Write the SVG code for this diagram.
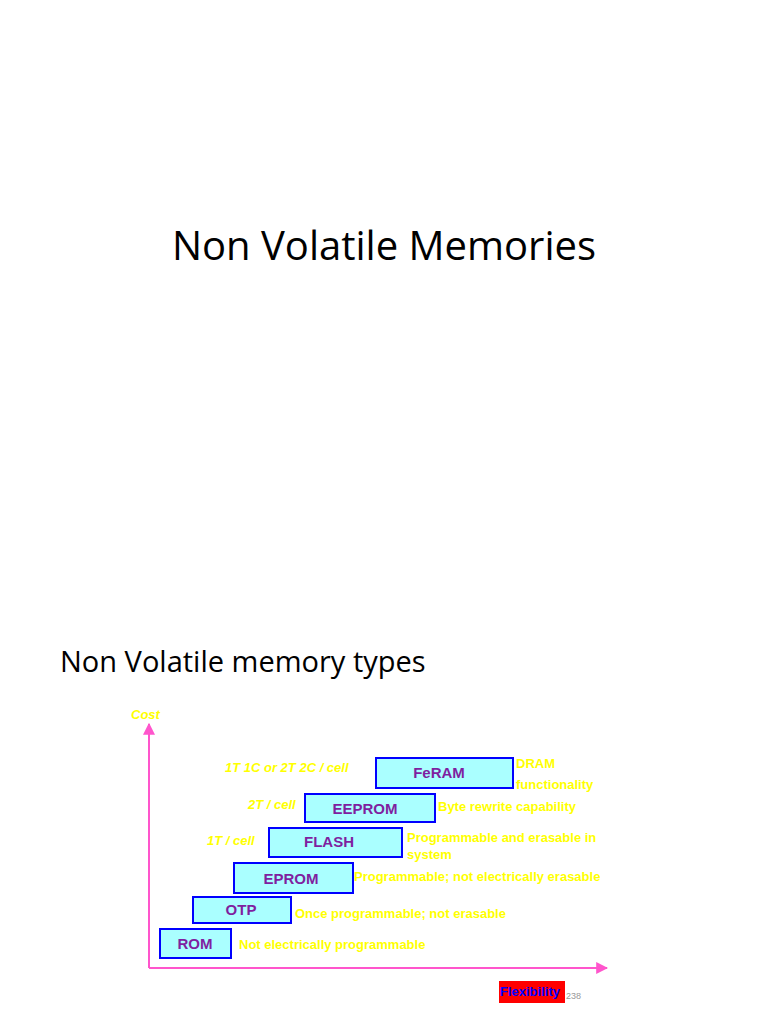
<svg xmlns="http://www.w3.org/2000/svg" width="768" height="1024" viewBox="0 0 768 1024">
<style>
.t{font-family:"Open Sans","Liberation Sans",sans-serif;fill:#000}
.b{fill:#aaffff;stroke:#0000ff;stroke-width:2}
.n{font-family:"Liberation Sans",Arial,sans-serif;font-size:15px;font-weight:bold;fill:#7f1fa0;text-anchor:middle}
.y{font-family:"Liberation Sans",Arial,sans-serif;font-size:13px;font-weight:bold;fill:#ffff00}
.i{font-style:italic}
</style>
<defs><marker id="a" viewBox="0 0 10 10" refX="9" refY="5" markerWidth="6" markerHeight="6" orient="auto"><path d="M0,0L10,5L0,10z" fill="#ff55cc"/></marker></defs>
<rect width="768" height="1024" fill="#fff"/>
<text class="t" x="384" y="260" font-size="40" text-anchor="middle">Non Volatile Memories</text>
<text class="t" x="60" y="672" font-size="29">Non Volatile memory types</text>
<g id="connectors" stroke="#ff55cc" stroke-width="2" fill="none">
<line x1="149" y1="968" x2="149" y2="724" marker-end="url(#a)"/>
<line x1="149" y1="968" x2="607" y2="968" marker-end="url(#a)"/>
</g>
<text class="y i" x="131" y="719">Cost</text>
<g id="feram"><rect class="b" x="376" y="758" width="137" height="30"/><text class="n" x="439" y="778">FeRAM</text></g>
<g id="eeprom"><rect class="b" x="305" y="794" width="130" height="28"/><text class="n" x="365" y="814">EEPROM</text></g>
<g id="flash"><rect class="b" x="269" y="828" width="133" height="29"/><text class="n" x="329" y="847">FLASH</text></g>
<g id="eprom"><rect class="b" x="234" y="863" width="119" height="30"/><text class="n" x="291" y="884">EPROM</text></g>
<g id="otp"><rect class="b" x="193" y="897" width="98" height="26"/><text class="n" x="241" y="915">OTP</text></g>
<g id="rom"><rect class="b" x="160" y="929" width="71" height="29"/><text class="n" x="195" y="949">ROM</text></g>
<text class="y i" x="225" y="772">1T 1C or 2T 2C / cell</text>
<text class="y i" x="248" y="809">2T / cell</text>
<text class="y i" x="207" y="845">1T / cell</text>
<text class="y" x="516" y="768">DRAM</text>
<text class="y" x="516" y="789">functionality</text>
<text class="y" x="438" y="811">Byte rewrite capability</text>
<text class="y" x="407" y="842">Programmable and erasable in</text>
<text class="y" x="407" y="859">system</text>
<text class="y" x="354" y="881">Programmable; not electrically erasable</text>
<text class="y" x="295" y="918">Once programmable; not erasable</text>
<text class="y" x="239" y="949">Not electrically programmable</text>
<rect x="499" y="981" width="66" height="22" fill="#ff0000"/>
<text x="500" y="996" font-family="Liberation Sans,Arial,sans-serif" font-size="13" font-weight="bold" fill="#0000ff">Flexibility</text>
<text x="566" y="999" font-family="Liberation Sans,Arial,sans-serif" font-size="9" fill="#999">238</text>
</svg>
